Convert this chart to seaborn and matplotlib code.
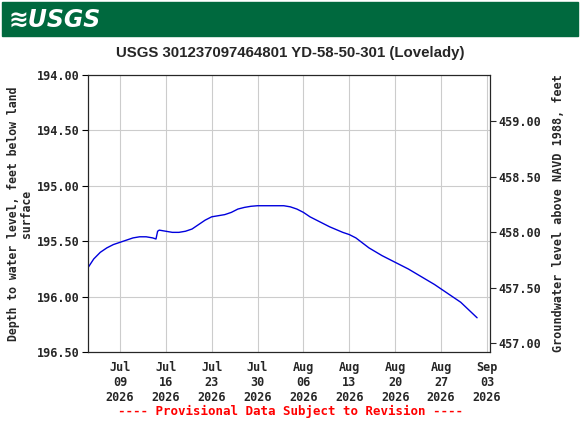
import matplotlib
matplotlib.use("Agg")
import matplotlib.pyplot as plt
import numpy as np
import pandas as pd
import seaborn as sns

# readings of depth to water (ft below land surface)
dates = [
    "2026-07-04", "2026-07-05", "2026-07-06", "2026-07-07", "2026-07-08",
    "2026-07-09", "2026-07-10", "2026-07-11", "2026-07-12", "2026-07-13",
    "2026-07-14 00:00", "2026-07-14 12:00", "2026-07-14 18:00", "2026-07-15",
    "2026-07-16", "2026-07-17", "2026-07-18", "2026-07-19", "2026-07-20",
    "2026-07-21", "2026-07-22", "2026-07-23", "2026-07-24", "2026-07-25",
    "2026-07-26", "2026-07-27", "2026-07-28", "2026-07-29", "2026-07-30",
    "2026-08-01", "2026-08-03", "2026-08-04", "2026-08-05", "2026-08-06",
    "2026-08-07", "2026-08-08", "2026-08-10", "2026-08-12", "2026-08-13",
    "2026-08-14", "2026-08-16", "2026-08-18", "2026-08-20", "2026-08-22",
    "2026-08-24", "2026-08-26", "2026-08-28", "2026-08-30", "2026-09-01 12:00",
]
depth = [
    195.75, 195.66, 195.60, 195.56, 195.53,
    195.51, 195.49, 195.47, 195.46, 195.46,
    195.47, 195.48, 195.41, 195.40,
    195.41, 195.42, 195.42, 195.41, 195.39,
    195.35, 195.31, 195.28, 195.27, 195.26,
    195.24, 195.21, 195.195, 195.185, 195.18,
    195.18, 195.18, 195.19, 195.21, 195.24,
    195.28, 195.31, 195.37, 195.42, 195.44,
    195.47, 195.56, 195.63, 195.69, 195.75,
    195.82, 195.89, 195.97, 196.05, 196.19,
]
datum_offset = 653.42  # land surface elevation, NAVD 1988
tick_dates = pd.date_range("2026-07-09", "2026-09-03", freq="7D")

df = pd.DataFrame({"date": pd.to_datetime(dates, format="mixed"), "depth": depth})

sns.set_style("white")
mono = "DejaVu Sans Mono"
fig = plt.figure(figsize=(5.8, 4.3), dpi=100)
fig.patch.set_facecolor("white")

# header band
fig.patches.append(plt.Rectangle((0.003, 0.916), 0.994, 0.079, transform=fig.transFigure,
                                 color="#00693e", zorder=0))
fig.text(0.015, 0.953, "≋USGS", color="white", fontsize=17, fontweight="bold",
         style="italic", va="center", family="DejaVu Sans")

ax = fig.add_axes([0.1517, 0.181, 0.693, 0.645])
sns.lineplot(data=df, x="date", y="depth", ax=ax, color="#0000dd", linewidth=1)
ax.set_ylim(196.5, 194.0)
ax.set_xlim(pd.Timestamp("2026-07-04 03:00"), pd.Timestamp("2026-09-03 11:00"))
ax.set_yticks(np.arange(194.0, 196.51, 0.5))
ax.set_yticklabels([f"{v:.2f}" for v in np.arange(194.0, 196.51, 0.5)],
                   family=mono, fontweight="bold", fontsize=8.5)
ax.set_xticks(tick_dates)
ax.set_xticklabels([d.strftime("%b\n%d\n%Y") for d in tick_dates],
                   family=mono, fontweight="bold", fontsize=8.5)
ax.grid(True, color="#cccccc", linewidth=0.8)
ax.set_xlabel("")
ax.set_ylabel("Depth to water level, feet below land\nsurface", family=mono,
              fontweight="bold", fontsize=8.3, labelpad=3, linespacing=1.0)
ax.tick_params(direction="out", length=4, color="black", pad=2)
for s in ax.spines.values():
    s.set_color("black")
    s.set_linewidth(0.8)

ax2 = ax.twinx()
ax2.set_ylim(datum_offset - 196.5, datum_offset - 194.0)
r = np.arange(457.0, 459.01, 0.5)
ax2.set_yticks(r)
ax2.set_yticklabels([f"{v:.2f}" for v in r], family=mono, fontweight="bold", fontsize=8.5)
ax2.set_ylabel("Groundwater level above NAVD 1988, feet", family=mono,
               fontweight="bold", fontsize=8.5, labelpad=8)
ax2.tick_params(direction="out", length=4, pad=2)

fig.text(0.5, 0.877, "USGS 301237097464801 YD-58-50-301 (Lovelady)", ha="center",
         va="center", fontsize=10.8, fontweight="bold", family="Liberation Sans")
fig.text(0.5, 0.043, "---- Provisional Data Subject to Revision ----", ha="center",
         va="center", color="red", family=mono, fontweight="bold", fontsize=9)

fig.savefig("out.png", dpi=100)
